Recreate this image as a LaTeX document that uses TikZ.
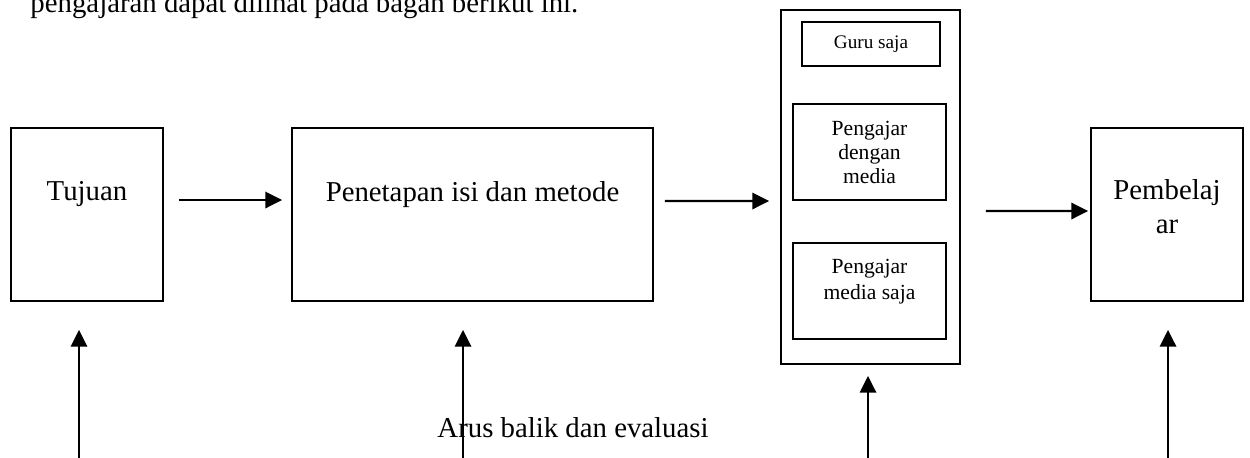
\documentclass[tikz,border=0pt]{standalone}
\usepackage{fontspec}
\setmainfont{Liberation Serif}
\usetikzlibrary{arrows.meta,fit}
\begin{document}
\begin{tikzpicture}[x=0.41667pt,y=-0.41667pt,
  box/.style={draw=black,line width=0.75pt,inner sep=0pt,rectangle},
  arr/.style={line width=1pt,-{Triangle[length=7pt,width=6.8pt]}},
  txt/.style={anchor=base,inner sep=0pt,font=\fontsize{12}{14}\selectfont},
  small/.style={anchor=base,inner sep=0pt,font=\fontsize{9}{10}\selectfont},
  tiny/.style={anchor=base,inner sep=0pt,font=\fontsize{8}{9}\selectfont}]
\useasboundingbox (0,0) rectangle (1250,457);
\clip (0,0) rectangle (1250,457);
% top line of running text (cut off as in the reference)
\node[txt,anchor=base west] (toptext) at (30,12) {pengajaran dapat dilihat pada bagan berikut ini.};
% boxes
\node[box,fit={(11,128) (163,301)}] (tuj) {};
\node[box,fit={(292,128) (653,301)}] (pen) {};
\node[box,fit={(781,10) (960,364)}] (col) {};
\node[box,fit={(802,22) (940,66)}] (guru) {};
\node[box,fit={(793,104) (946,200)}] (dengan) {};
\node[box,fit={(793,243) (946,339)}] (saja) {};
\node[box,fit={(1091,128) (1243,301)}] (pem) {};
% texts
\node[txt] (ttuj) at (87,200) {Tujuan};
\node[txt] (tpen) at (472.5,201) {Penetapan isi dan metode};
\node[tiny] (tguru) at (871,48) {Guru saja};
\node[small] (td1) at (869.5,135) {Pengajar};
\node[small] (td2) at (869.5,159) {dengan};
\node[small] (td3) at (869.5,183) {media};
\node[small] (ts1) at (869.5,273) {Pengajar};
\node[small] (ts2) at (869.5,299) {media saja};
\node[txt] (tpem1) at (1167,199) {Pembelaj};
\node[txt] (tpem2) at (1167,233) {ar};
\node[txt,anchor=base west] (arus) at (437,437) {Arus balik dan evaluasi};
% horizontal arrows
\draw[arr] ([shift={(15,-14.5)}]tuj.east) -- ([shift={(-9,-14.5)}]pen.west);
\draw[arr] ([shift={(11,-13.5)}]pen.east) -- ([shift={(-11,14)}]col.west);
\draw[arr] ([shift={(25,24)}]col.east) -- ([shift={(-2,-3.5)}]pem.west);
% feedback arrows from below
\coordinate (b1) at (79,460);
\coordinate (b2) at (463,460);
\coordinate (b3) at (868,460);
\coordinate (b4) at (1168,460);
\draw[arr] (b1) -- ([shift={(-8,28)}]tuj.south);
\draw[arr] (b2) -- ([shift={(-9.5,28)}]pen.south);
\draw[arr] (b3) -- ([shift={(-2.5,11)}]col.south);
\draw[arr] (b4) -- ([shift={(1,28)}]pem.south);
\end{tikzpicture}
\end{document}
